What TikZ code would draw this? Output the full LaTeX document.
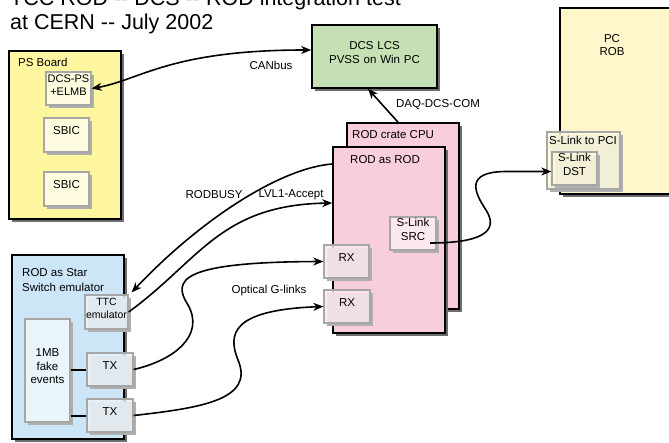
\documentclass[tikz,border=0pt]{standalone}
\usepackage{fontspec}
\setmainfont{Liberation Sans}
\usetikzlibrary{arrows.meta,fit}
\definecolor{psyellow}{RGB}{255,247,160}
\definecolor{cream}{RGB}{255,251,222}
\definecolor{dcsgreen}{RGB}{197,224,180}
\definecolor{rodpink}{RGB}{248,206,222}
\definecolor{rxpink}{RGB}{252,232,240}
\definecolor{pcyellow}{RGB}{255,246,204}
\definecolor{starblue}{RGB}{205,230,247}
\definecolor{paleblue}{RGB}{234,244,251}
\definecolor{darkshadow}{RGB}{110,110,110}
\definecolor{lightshadow}{RGB}{175,175,175}
\newcommand{\bigshadow}[4]{\fill[darkshadow] ({#1+3},{#2+3}) rectangle ({#3+3},{#4+3});}
\newcommand{\smallshadow}[4]{\fill[lightshadow] ({#1+3},{#2+3}) rectangle ({#3+3},{#4+3});}
\begin{document}
\begin{tikzpicture}[x=1pt,y=-1pt,
  >={Stealth[length=10pt,width=8pt,inset=3pt]},
  every node/.style={font=\fontsize{11.5}{13.5}\selectfont},
  bigbox/.style={draw=black, line width=1.6pt, inner sep=0pt},
  smallbox/.style={draw=black!35, line width=1.3pt, inner sep=0pt, align=center},
  seethru/.style={fill opacity=0.85, text opacity=1},
  conn/.style={line width=1.6pt, ->},
  lbl/.style={inner sep=0pt, anchor=base west}]
\useasboundingbox (0,0) rectangle (669,442);
\fill[white] (0,0) rectangle (669,442);

% title
\node[lbl, font=\fontsize{21.5}{26}\selectfont] (t1) at (10,5) {TCC ROD -{}- DCS -{}- ROD integration test};
\node[lbl, font=\fontsize{21.5}{26}\selectfont] (t2) at (10,29) {at CERN -{}- July 2002};

% PS board
\bigshadow{9}{51}{121}{219}
\node[bigbox, fill=psyellow, fit={(9,51) (121,219)}] (ps) {};
\node[lbl] (pslbl) at (18,66) {PS Board};
\smallshadow{46}{72}{91}{105}
\node[smallbox, fill=cream, font=\fontsize{11}{13}\selectfont, fit={(46,72) (91,105)}] (dcsps) {DCS-PS\\+ELMB};
\smallshadow{44}{118}{89}{152}
\node[smallbox, fill=cream, fit={(44,118) (89,152)}] (sbic1) {SBIC};
\smallshadow{44}{172}{89}{206}
\node[smallbox, fill=cream, fit={(44,172) (89,206)}] (sbic2) {SBIC};

% DCS LCS
\bigshadow{312}{25}{437}{88}
\node[bigbox, fill=dcsgreen, fit={(312,25) (437,88)}, align=center] (dcs) {DCS LCS\\PVSS on Win PC};

% ROD crate
\bigshadow{347}{123}{459}{309}
\node[bigbox, fill=rodpink, fit={(347,123) (459,309)}] (crate) {};
\node[lbl] (cratelbl) at (352,138) {ROD crate CPU};
\bigshadow{333}{147}{445}{333}
\node[bigbox, fill=rodpink, fit={(333,147) (445,333)}] (rodrod) {};
\node[lbl] (rodlbl) at (350,163) {ROD as ROD};
\smallshadow{390}{217}{436}{250}
\node[smallbox, fill=rxpink, fit={(390,217) (436,250)}] (src) {S-Link\\SRC};
\smallshadow{324}{245}{369}{278}
\node[smallbox, fill=rxpink, seethru, fit={(324,245) (369,278)}] (rx1) {RX};
\smallshadow{324}{290}{370}{323}
\node[smallbox, fill=rxpink, seethru, fit={(324,290) (370,323)}] (rx2) {RX};

% PC ROB
\bigshadow{560}{8}{690}{194}
\node[bigbox, fill=pcyellow, fit={(560,8) (690,194)}] (pc) {};
\node[align=center] (pclbl) at (612,45) {PC\\ROB};
\smallshadow{547}{132}{620}{189}
\node[smallbox, fill=cream, seethru, fit={(547,132) (620,189)}] (pci) {};
\node[lbl] (pcilbl) at (549,144) {S-Link to PCI};
\smallshadow{552}{152}{597}{185}
\node[smallbox, fill=cream, seethru, fit={(552,152) (597,185)}] (dst) {S-Link\\DST};

% ROD as Star Switch emulator
\bigshadow{12}{255}{124}{439}
\node[bigbox, fill=starblue, fit={(12,255) (124,439)}] (star) {};
\node[lbl] (starlbl1) at (22,276) {ROD as Star};
\node[lbl] (starlbl2) at (22,291) {Switch emulator};
\smallshadow{85}{295}{128}{329}
\node[smallbox, fill=paleblue, seethru, font=\fontsize{10.5}{12.5}\selectfont, fit={(85,295) (128,329)}] (ttc) {TTC\\emulator};
\smallshadow{25}{319}{70}{422}
\node[smallbox, fill=paleblue, fit={(25,319) (70,422)}] (fake) {1MB\\fake\\events};
\smallshadow{87}{353}{133}{386}
\node[smallbox, fill=paleblue, seethru, fit={(87,353) (133,386)}] (tx1) {TX};
\smallshadow{87}{399}{133}{432}
\node[smallbox, fill=paleblue, seethru, fit={(87,399) (133,432)}] (tx2) {TX};
\draw[line width=2pt] (fake.east |- tx1.west) -- (tx1.west);
\draw[line width=2pt] (fake.east |- tx2.west) -- (tx2.west);

% connectors
\draw[line width=1.6pt, <->]
  (dcsps.east) .. controls (140,80) and (170,50) .. ([yshift=6.5pt]dcs.west);
\node (canlbl) at (271,65) {CANbus};

\draw[conn] ([xshift=-5pt]crate.north) -- ([xshift=-6.5pt]dcs.south);
\node (daqlbl) at (438,105) {DAQ-DCS-COM};

\draw[conn] ([yshift=76pt]rodrod.west) .. controls (280,168) and (200,220) .. ([shift={(3pt,2pt)}]ttc.north east);
\draw[conn] (ttc.east) .. controls (200,260) and (220,205) .. ([yshift=37pt]rodrod.west);
\node (busylbl) at (214,195) {RODBUSY};
\node (lvllbl) at (291,195) {LVL1-Accept};

\draw[conn] (tx1.east) .. controls (175,360) and (205,335) .. (188,305)
  .. controls (172,280) and (180,262) .. (rx1.west);
\draw[conn] (tx2.east) .. controls (200,408) and (255,400) .. (238,360)
  .. controls (228,335) and (230,310) .. (rx2.west);
\node (optlbl) at (269,291) {Optical G-links};

\coordinate (srcout) at (430,243);
\draw[conn] (srcout) .. controls (480,243) and (500,232) .. (486,210)
  .. controls (474,192) and (465,172) .. (505,171.5) -- ([yshift=-3pt]dst.west);
\end{tikzpicture}
\end{document}
